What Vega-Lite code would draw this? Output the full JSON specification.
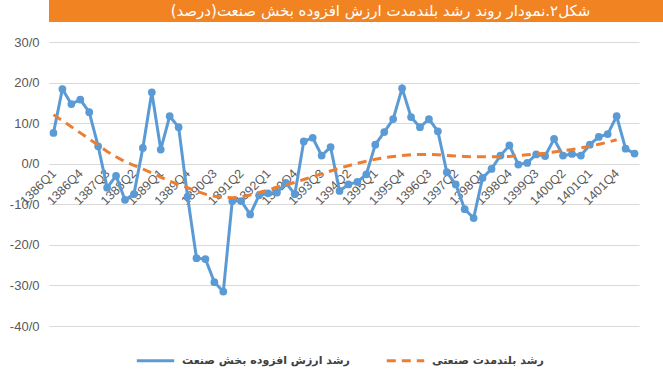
{
  "$schema": "https://vega.github.io/schema/vega-lite/v6.json",
  "padding": 0,
  "background": "white",
  "spacing": 14,
  "config": {"view": {"stroke": null}},
  "vconcat": [
    {
      "width": 663,
      "height": 22,
      "view": {"fill": "#F28322", "stroke": null},
      "data": {"values": [{"title": "شکل۲.نمودار روند رشد بلندمدت ارزش افزوده بخش صنعت(درصد)"}]},
      "mark": {"type": "text", "color": "white", "font": "DejaVu Sans", "fontSize": 15},
      "encoding": {"text": {"field": "title", "type": "nominal"}}
    },
    {
      "width": 590,
      "height": 284,
      "data": {"values": [
        {"q": "1386Q1", "a": 7.6, "b": 12.1},
        {"q": "1386Q2", "a": 18.4, "b": 10.6},
        {"q": "1386Q3", "a": 14.7, "b": 9.1},
        {"q": "1386Q4", "a": 15.8, "b": 7.6},
        {"q": "1387Q1", "a": 12.7, "b": 6.1},
        {"q": "1387Q2", "a": 4.3, "b": 4.6},
        {"q": "1387Q3", "a": -5.9, "b": 3.0},
        {"q": "1387Q4", "a": -3.0, "b": 1.7},
        {"q": "1388Q1", "a": -8.9, "b": 0.5},
        {"q": "1388Q2", "a": -7.5, "b": -0.4},
        {"q": "1388Q3", "a": 3.9, "b": -1.3},
        {"q": "1388Q4", "a": 17.6, "b": -2.3},
        {"q": "1389Q1", "a": 3.5, "b": -3.3},
        {"q": "1389Q2", "a": 11.7, "b": -4.3},
        {"q": "1389Q3", "a": 9.0, "b": -5.1},
        {"q": "1389Q4", "a": -8.1, "b": -5.9},
        {"q": "1390Q1", "a": -23.3, "b": -6.8},
        {"q": "1390Q2", "a": -23.5, "b": -7.5},
        {"q": "1390Q3", "a": -29.2, "b": -8.0},
        {"q": "1390Q4", "a": -31.5, "b": -8.3},
        {"q": "1391Q1", "a": -9.2, "b": -8.4},
        {"q": "1391Q2", "a": -9.2, "b": -8.2},
        {"q": "1391Q3", "a": -12.5, "b": -7.7},
        {"q": "1391Q4", "a": -7.8, "b": -7.1},
        {"q": "1392Q1", "a": -7.3, "b": -6.5},
        {"q": "1392Q2", "a": -7.1, "b": -5.8},
        {"q": "1392Q3", "a": -4.7, "b": -5.2},
        {"q": "1392Q4", "a": -7.5, "b": -4.6},
        {"q": "1393Q1", "a": 5.5, "b": -3.9},
        {"q": "1393Q2", "a": 6.4, "b": -3.2},
        {"q": "1393Q3", "a": 2.0, "b": -2.5},
        {"q": "1393Q4", "a": 4.1, "b": -1.8},
        {"q": "1394Q1", "a": -6.7, "b": -1.1},
        {"q": "1394Q2", "a": -5.1, "b": -0.5},
        {"q": "1394Q3", "a": -4.5, "b": 0.1},
        {"q": "1394Q4", "a": -2.6, "b": 0.6},
        {"q": "1395Q1", "a": 4.7, "b": 1.1},
        {"q": "1395Q2", "a": 7.8, "b": 1.5},
        {"q": "1395Q3", "a": 11.0, "b": 1.8},
        {"q": "1395Q4", "a": 18.6, "b": 2.0},
        {"q": "1396Q1", "a": 11.5, "b": 2.2},
        {"q": "1396Q2", "a": 9.0, "b": 2.3},
        {"q": "1396Q3", "a": 11.0, "b": 2.3},
        {"q": "1396Q4", "a": 8.0, "b": 2.2},
        {"q": "1397Q1", "a": -2.1, "b": 2.0},
        {"q": "1397Q2", "a": -5.1, "b": 1.9},
        {"q": "1397Q3", "a": -11.2, "b": 1.8},
        {"q": "1397Q4", "a": -13.4, "b": 1.7},
        {"q": "1398Q1", "a": -3.5, "b": 1.7},
        {"q": "1398Q2", "a": -1.3, "b": 1.7},
        {"q": "1398Q3", "a": 2.0, "b": 1.7},
        {"q": "1398Q4", "a": 4.5, "b": 1.8},
        {"q": "1399Q1", "a": -0.2, "b": 2.0},
        {"q": "1399Q2", "a": 0.2, "b": 2.2},
        {"q": "1399Q3", "a": 2.3, "b": 2.4},
        {"q": "1399Q4", "a": 1.9, "b": 2.6},
        {"q": "1400Q1", "a": 6.1, "b": 2.9},
        {"q": "1400Q2", "a": 2.0, "b": 3.2},
        {"q": "1400Q3", "a": 2.4, "b": 3.5},
        {"q": "1400Q4", "a": 2.0, "b": 3.9},
        {"q": "1401Q1", "a": 4.7, "b": 4.3},
        {"q": "1401Q2", "a": 6.6, "b": 4.8},
        {"q": "1401Q3", "a": 7.3, "b": 5.3},
        {"q": "1401Q4", "a": 11.7, "b": 5.9},
        {"q": "1402Q1", "a": 3.7},
        {"q": "1402Q2", "a": 2.5}
      ]},
      "transform": [{"fold": ["a", "b"], "as": ["k", "v"]}],
      "encoding": {
        "x": {
          "field": "q", "type": "ordinal", "sort": null,
          "scale": {"type": "point", "padding": 0.5},
          "axis": {
            "orient": "bottom", "offset": -162, "title": null,
            "values": ["1386Q1","1386Q4","1387Q3","1388Q2","1389Q1","1389Q4","1390Q3","1391Q2","1392Q1","1392Q4","1393Q3","1394Q2","1395Q1","1395Q4","1396Q3","1397Q2","1398Q1","1398Q4","1399Q3","1400Q2","1401Q1","1401Q4"],
            "labelAngle": -45, "labelAlign": "right", "labelBaseline": "middle",
            "labelPadding": 7, "domain": false, "ticks": false, "grid": false,
            "labelColor": "#595959", "labelFont": "Liberation Sans", "labelFontSize": 12.5,
            "labelOverlap": false
          }
        },
        "y": {
          "field": "v", "type": "quantitative",
          "scale": {"domain": [-40, 30], "nice": false},
          "axis": {
            "title": null, "values": [-40, -30, -20, -10, 0, 10, 20, 30],
            "labelExpr": "datum.value + '/0'",
            "domain": false, "ticks": false, "tickSize": 0, "labelPadding": 10,
            "minExtent": 49, "gridColor": "#d9d9d9", "gridWidth": 1,
            "labelColor": "#595959", "labelFont": "Liberation Sans", "labelFontSize": 13
          }
        },
        "color": {
          "field": "k", "type": "nominal",
          "scale": {"domain": ["a", "b"], "range": ["#5B9BD5", "#ED7D31"]},
          "legend": {
            "orient": "none", "legendX": 86, "legendY": 340, "direction": "horizontal",
            "title": null, "symbolType": "stroke", "symbolSize": 1400, "symbolStrokeWidth": 3,
            "labelExpr": "datum.label == 'a' ? 'رشد ارزش افزوده بخش صنعت' : 'رشد بلندمدت صنعتی'",
            "labelFont": "DejaVu Sans", "labelFontSize": 11, "labelFontWeight": "bold",
            "labelColor": "#404040", "columnPadding": 30, "labelOffset": 6, "labelLimit": 400
          }
        },
        "strokeDash": {
          "field": "k", "type": "nominal",
          "scale": {"domain": ["a", "b"], "range": [[1, 0], [9, 6]]},
          "legend": {
            "orient": "none", "legendX": 86, "legendY": 340, "direction": "horizontal",
            "title": null, "symbolType": "stroke", "symbolSize": 1400, "symbolStrokeWidth": 3,
            "labelExpr": "datum.label == 'a' ? 'رشد ارزش افزوده بخش صنعت' : 'رشد بلندمدت صنعتی'",
            "labelFont": "DejaVu Sans", "labelFontSize": 11, "labelFontWeight": "bold",
            "labelColor": "#404040", "columnPadding": 30, "labelOffset": 6, "labelLimit": 400
          }
        }
      },
      "layer": [
        {
          "transform": [{"filter": "datum.k == 'a'"}],
          "mark": {"type": "line", "strokeWidth": 3}
        },
        {
          "transform": [{"filter": "datum.k == 'a'"}],
          "mark": {"type": "point", "filled": true, "size": 60, "opacity": 1, "shape": "circle", "strokeDash": [1, 0]}
        },
        {
          "transform": [{"filter": "datum.k == 'b'"}],
          "mark": {"type": "line", "strokeWidth": 3}
        }
      ]
    }
  ]
}
